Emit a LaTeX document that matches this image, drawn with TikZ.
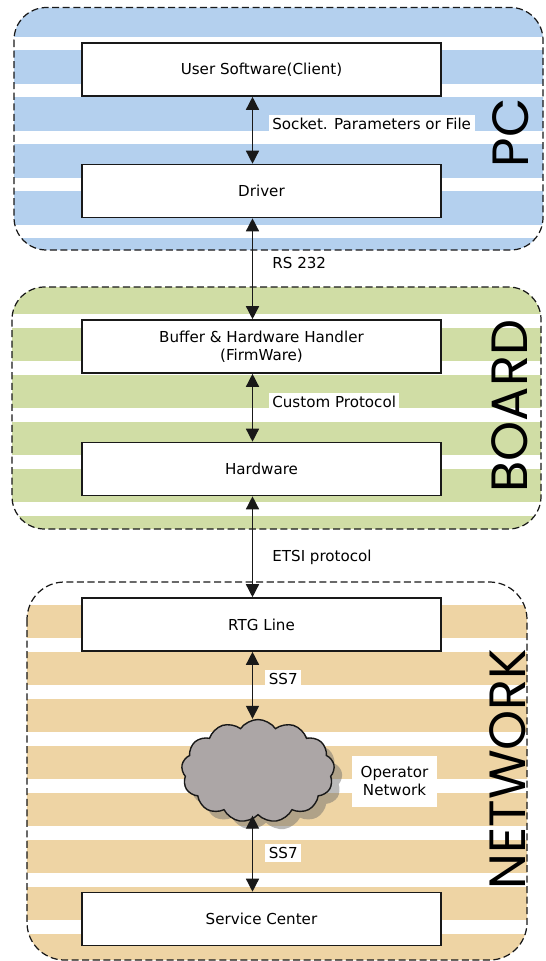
\documentclass[tikz,border=0pt]{standalone}
\usepackage{fontspec}
\setmainfont{DejaVu Sans}
\newfontfamily\groupfont{Poppins}
\usepackage{tikz}
\usetikzlibrary{arrows.meta, positioning, shapes.symbols, shadows, calc}
\definecolor{pcblue}{RGB}{180,208,238}
\definecolor{boardgreen}{RGB}{208,221,165}
\definecolor{nettan}{RGB}{238,212,164}
\definecolor{cloudgray}{RGB}{172,166,166}
\definecolor{mydark}{RGB}{25,25,25}
\tikzset{
  block/.style={rectangle, draw=mydark, fill=white,
    minimum width=7.18cm, minimum height=1.06cm, align=center,
    font=\fontsize{8.6}{10.2}\selectfont, line width=0.9pt},
  tag/.style={fill=white, inner sep=2pt, anchor=west, align=center,
    font=\fontsize{8.6}{10.2}\selectfont},
  grouptitle/.style={rotate=90, inner sep=0pt, font=\groupfont\fontsize{29}{29}\selectfont},
  groupline/.style={draw=mydark, dashed, dash pattern=on 4pt off 2pt,
    line width=0.7pt, rounded corners=0.65cm},
  link/.style={{Triangle[length=0.26cm,width=0.26cm]}-{Triangle[length=0.26cm,width=0.26cm]},
    line width=0.8pt, color=mydark},
  cloudnode/.style={cloud, cloud puffs=13, cloud puff arc=110, aspect=1.5,
    draw=mydark, fill=cloudgray, line width=0.8pt,
    minimum width=3.06cm, minimum height=2.06cm,
    drop shadow={shadow xshift=0.16cm, shadow yshift=-0.16cm, fill=black!60, opacity=0.45}}
}

\begin{document}
\begin{tikzpicture}
  \useasboundingbox (0,0) rectangle (10.9,-19.22);

  % PC area
  \begin{scope}
    \clip[rounded corners=0.65cm] (0.28,-0.15) rectangle (10.86,-5.0);
    \fill[white] (0,0) rectangle (10.9,-5.2);
    \foreach \s in {3,50,...,238}
      \fill[pcblue] (0,-\s*0.02) rectangle (10.9,-\s*0.02-0.68);
  \end{scope}
  \draw[groupline] (0.28,-0.15) rectangle (10.86,-5.0);

  % BOARD area
  \begin{scope}
    \clip[rounded corners=0.65cm] (0.24,-5.74) rectangle (10.82,-10.58);
    \fill[white] (0,-5.5) rectangle (10.9,-10.8);
    \foreach \s in {281,328,...,516}
      \fill[boardgreen] (0,-\s*0.02) rectangle (10.9,-\s*0.02-0.66);
  \end{scope}
  \draw[groupline] (0.24,-5.74) rectangle (10.82,-10.58);

  % NETWORK area
  \begin{scope}
    \clip[rounded corners=0.75cm] (0.54,-11.64) rectangle (10.54,-19.2);
    \fill[white] (0,-11.5) rectangle (10.9,-19.3);
    \foreach \s in {605,652,...,934}
      \fill[nettan] (0,-\s*0.02) rectangle (10.9,-\s*0.02-0.66);
  \end{scope}
  \draw[groupline, rounded corners=0.75cm] (0.54,-11.64) rectangle (10.54,-19.2);

  % blocks
  \node[block] (user) at (5.23,-1.39) {User Software(Client)};
  \node[block] (driver) at (5.23,-3.82) {Driver};
  \node[block] (buffer) at (5.23,-6.93) {Buffer \& Hardware Handler\\(FirmWare)};
  \node[block] (hw) at (5.23,-9.38) {Hardware};
  \node[block] (rtg) at (5.23,-12.49) {RTG Line};
  \node[cloudnode] (opnet) at (5.16,-15.42) {};
  \node[block] (sc) at (5.23,-18.38) {Service Center};

  % links
  \coordinate (axis) at (5.05,0);
  \draw[link] (axis |- user.south) -- (axis |- driver.north);
  \draw[link] (axis |- driver.south) -- (axis |- buffer.north);
  \draw[link] (axis |- buffer.south) -- (axis |- hw.north);
  \draw[link] (axis |- hw.south) -- (axis |- rtg.north);
  \draw[link] (axis |- rtg.south) -- (axis |- opnet.north);
  \draw[link] (axis |- opnet.south) -- (axis |- sc.north);

  % link labels
  \node[tag] (socketlbl) at (5.37,-2.48) {Socket. Parameters or File};
  \node[tag] (rslbl) at (5.37,-5.26) {RS 232};
  \node[tag] (customlbl) at (5.37,-8.04) {Custom Protocol};
  \node[tag] (etsilbl) at (5.37,-11.14) {ETSI protocol};
  \node[tag] (ss7top) at (5.3,-13.58) {SS7};
  \node[tag] (ss7bot) at (5.3,-17.06) {SS7};
  \node[tag, anchor=center, minimum width=1.7cm, minimum height=1.02cm]
    (oplbl) at (7.89,-15.62) {Operator\\Network};

  % group titles
  \node[grouptitle] (pctitle) at (10.22,-2.66) {PC};
  \node[grouptitle] (boardtitle) at (10.2,-8.12) {BOARD};
  \node[grouptitle] (nettitle) at (10.16,-15.38) {NETWORK};
\end{tikzpicture}
\end{document}
